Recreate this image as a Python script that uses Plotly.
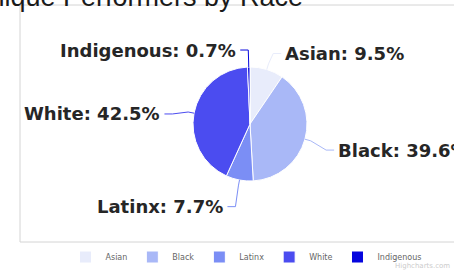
import math
import plotly.graph_objects as go

# ---- data ----
categories = ["Asian", "Black", "Latinx", "White", "Indigenous"]
shares = [9.5, 39.6, 7.7, 42.5, 0.7]
colors = ["#e8ecfb", "#a9b8f7", "#7b8ef5", "#4b4cf0", "#0505de"]
title_text = "Unique Performers by Race"

W, H = 454, 273
CX, CY, R = 250, 124, 57
LABEL_DIST, LABEL_GAP, LABEL_DY = 22, 11, 5


def X(px):
    return px / W


def Y(py):
    return 1 - py / H


fig = go.Figure()
fig.add_trace(go.Pie(
    labels=categories,
    values=shares,
    sort=False,
    direction="clockwise",
    rotation=0,
    textinfo="none",
    hoverinfo="label+percent",
    marker=dict(colors=colors, line=dict(color="white", width=1)),
    domain=dict(x=[X(CX - R), X(CX + R)], y=[Y(CY + R), Y(CY - R)]),
))

annotations = []
shapes = []

# frame of the chart area
shapes.append(dict(type="rect", xref="paper", yref="paper",
                   x0=X(20), x1=X(470), y0=Y(242), y1=Y(5),
                   line=dict(color="#d4d4d4", width=1), layer="below"))

total = sum(shares)
cum = 0.0
for cat, v, col in zip(categories, shares, colors):
    mid = (cum + v / 2) / total * 2 * math.pi
    cum += v
    s, c = math.sin(mid), math.cos(mid)
    sign = 1 if s >= 0 else -1
    ex, ey = CX + R * s, CY - R * c
    bx, by = CX + (R + 6) * s, CY - (R + 6) * c
    kx = CX + (R + LABEL_DIST) * s
    ly = CY - (R + LABEL_DIST) * c + LABEL_DY
    lx = kx + sign * LABEL_GAP
    path = "M {},{} L {},{} L {},{} L {},{}".format(
        X(lx - sign * 3), Y(ly), X(kx), Y(ly), X(bx), Y(by), X(ex), Y(ey))
    shapes.append(dict(type="path", xref="paper", yref="paper", path=path,
                       line=dict(color=col, width=1)))
    annotations.append(dict(
        x=X(lx), y=Y(ly), xref="paper", yref="paper",
        text="<b>{}: {}%</b>".format(cat, v),
        showarrow=False, xanchor="left" if sign > 0 else "right",
        yanchor="middle", borderpad=0,
        font=dict(family="DejaVu Sans", size=18, color="#262626")))

annotations.append(dict(
    x=X(305), y=Y(-3), xref="paper", yref="paper", text=title_text,
    showarrow=False, xanchor="right", yanchor="middle",
    font=dict(family="Liberation Sans", size=27, color="#1a1a1a")))

annotations.append(dict(
    x=X(452), y=Y(266), xref="paper", yref="paper", text="Highcharts.com",
    showarrow=False, xanchor="right", yanchor="middle",
    font=dict(family="DejaVu Sans", size=7, color="#cccccc")))

fig.update_layout(
    width=W, height=H,
    margin=dict(l=0, r=0, t=0, b=0, autoexpand=False),
    paper_bgcolor="white", plot_bgcolor="white",
    showlegend=True,
    legend=dict(orientation="h", x=X(246), xanchor="center",
                y=Y(257), yanchor="middle", itemwidth=30,
                font=dict(family="DejaVu Sans", size=8, color="#666666"),
                bgcolor="rgba(0,0,0,0)", traceorder="normal"),
    annotations=annotations,
    shapes=shapes,
)

fig.write_html("out.html",
               config={"displayModeBar": False},
               post_script="document.body.style.margin='0';"
                           "document.body.style.overflow='hidden';")
